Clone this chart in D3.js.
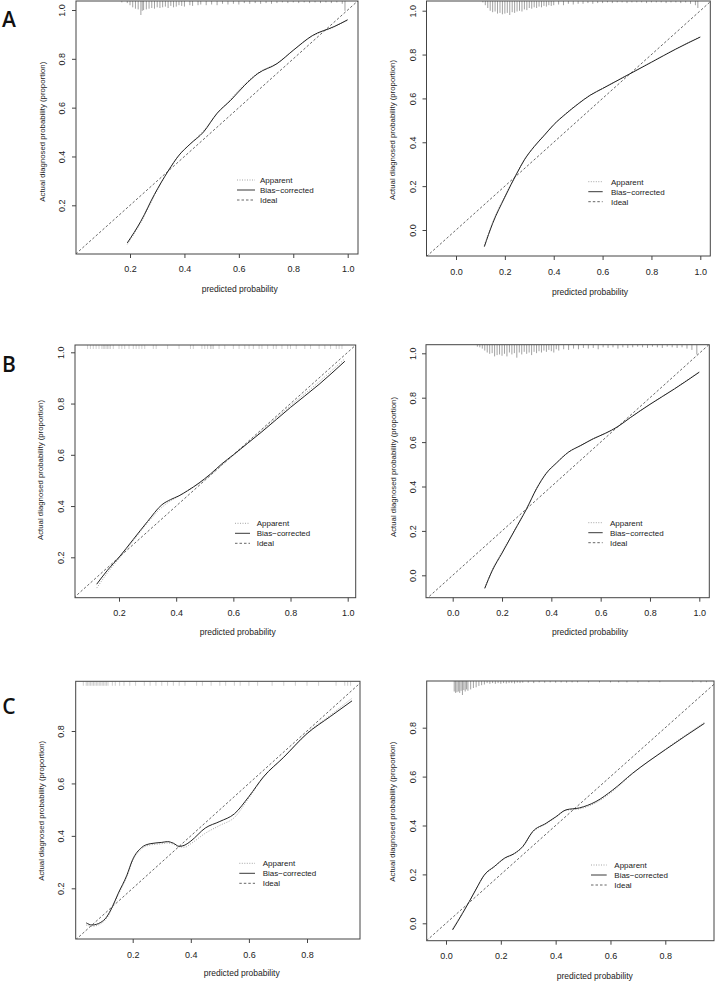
<!DOCTYPE html>
<html><head><meta charset="utf-8">
<script src="https://cdn.jsdelivr.net/npm/d3@7"></script>
<style>body{margin:0;background:#fff}svg{display:block}</style>
</head><body><svg id="chart" width="716" height="981"></svg>
<script>
// ---------------- DATA ----------------
const panelIds = ["A1","A2","B1","B2","C1","C2"];
const panelLetters = ["A","B","C"];
const legendLabels = ["Apparent","Bias\u2212corrected","Ideal"];
const xAxisTitle = "predicted probability";
const yAxisTitle = "Actual diagnosed probability (proportion)";

// tick values
const ticksA1x=[0.2,0.4,0.6,0.8,1.0], ticksA1y=[0.2,0.4,0.6,0.8,1.0];
const ticksA2x=[0.0,0.2,0.4,0.6,0.8,1.0], ticksA2y=[0.0,0.2,0.4,0.6,0.8,1.0];
const ticksB1x=[0.2,0.4,0.6,0.8,1.0], ticksB1y=[0.2,0.4,0.6,0.8,1.0];
const ticksB2x=[0.0,0.2,0.4,0.6,0.8,1.0], ticksB2y=[0.0,0.2,0.4,0.6,0.8,1.0];
const ticksC1x=[0.2,0.4,0.6,0.8], ticksC1y=[0.2,0.4,0.6,0.8];
const ticksC2x=[0.0,0.2,0.4,0.6,0.8], ticksC2y=[0.0,0.2,0.4,0.6,0.8];

// Panel A left
const predA1=[0.19,0.24,0.29,0.34,0.38,0.42,0.47,0.52,0.57,0.62,0.67,0.74,0.80,0.87,0.95,1.00];
const biasA1=[0.046,0.135,0.245,0.34,0.405,0.45,0.50,0.577,0.63,0.69,0.74,0.78,0.835,0.895,0.932,0.96];
const appA1 =[0.040,0.13,0.24,0.34,0.405,0.45,0.505,0.575,0.635,0.695,0.742,0.782,0.835,0.893,0.93,0.958];
// Panel A right
const predA2=[0.116,0.15,0.20,0.25,0.28,0.32,0.36,0.40,0.45,0.50,0.55,0.60,0.65,0.70,0.80,0.90,1.00];
const biasA2=[-0.076,0.03,0.15,0.26,0.32,0.38,0.43,0.48,0.53,0.575,0.615,0.645,0.675,0.705,0.765,0.825,0.88];
const appA2 =[-0.070,0.035,0.155,0.262,0.322,0.382,0.432,0.482,0.532,0.577,0.616,0.647,0.676,0.706,0.766,0.826,0.882];
// Panel B left
const predB1=[0.122,0.16,0.20,0.25,0.30,0.35,0.38,0.41,0.44,0.48,0.52,0.56,0.60,0.65,0.70,0.80,0.90,0.99];
const biasB1=[0.095,0.15,0.20,0.27,0.34,0.405,0.425,0.44,0.46,0.49,0.525,0.565,0.60,0.645,0.69,0.785,0.875,0.965];
const appB1 =[0.080,0.14,0.195,0.265,0.335,0.395,0.42,0.44,0.46,0.487,0.52,0.56,0.597,0.645,0.695,0.792,0.885,0.975];
// Panel B right
const predB2=[0.13,0.16,0.20,0.25,0.30,0.34,0.38,0.42,0.47,0.52,0.57,0.62,0.67,0.72,0.80,0.90,1.00];
const biasB2=[-0.059,0.02,0.10,0.20,0.30,0.39,0.46,0.505,0.555,0.585,0.615,0.64,0.67,0.71,0.77,0.84,0.915];
const appB2 =[-0.055,0.025,0.105,0.203,0.302,0.392,0.462,0.507,0.556,0.586,0.616,0.641,0.671,0.711,0.771,0.842,0.917];
// Panel C left
const predC1=[0.04,0.06,0.09,0.11,0.13,0.15,0.18,0.20,0.23,0.26,0.30,0.32,0.34,0.36,0.38,0.40,0.45,0.50,0.55,0.60,0.65,0.72,0.80,0.88,0.955];
const biasC1=[0.068,0.06,0.07,0.09,0.13,0.18,0.25,0.31,0.355,0.37,0.375,0.378,0.372,0.36,0.365,0.38,0.43,0.455,0.484,0.55,0.625,0.70,0.79,0.855,0.915];
const appC1 =[0.060,0.055,0.065,0.085,0.125,0.175,0.245,0.305,0.35,0.365,0.37,0.373,0.368,0.358,0.357,0.37,0.41,0.44,0.47,0.545,0.623,0.70,0.792,0.86,0.925];
// Panel C right
const predC2=[0.024,0.06,0.085,0.11,0.14,0.176,0.213,0.25,0.28,0.316,0.365,0.40,0.438,0.487,0.547,0.608,0.681,0.80,0.943];
const biasC2=[-0.027,0.04,0.089,0.14,0.198,0.232,0.266,0.286,0.314,0.375,0.409,0.435,0.464,0.472,0.498,0.545,0.614,0.71,0.818];
const appC2 =[-0.022,0.043,0.09,0.142,0.197,0.23,0.264,0.284,0.312,0.372,0.407,0.433,0.462,0.468,0.493,0.54,0.612,0.712,0.822];

// Spike histograms (rug) of predicted probabilities: position and relative frequency
const rugA1x=[0.17,0.19,0.20,0.21,0.22,0.23,0.24,0.245,0.25,0.26,0.27,0.28,0.29,0.30,0.31,0.32,0.33,0.34,0.35,0.36,0.37,0.38,0.39,0.40,0.42,0.43,0.45,0.46,0.48,0.50,0.52,0.54,0.56,0.58,0.60,0.62,0.64,0.66,0.68,0.70,0.72,0.74,0.76,0.78,0.80,0.82,0.84,0.86,0.88,0.90,0.92,0.94,0.96,0.98,0.99];
const rugA1h=[.1,.15,.3,.45,.55,.6,1.0,.7,.65,.6,.55,.5,.55,.45,.5,.45,.4,.5,.35,.45,.4,.3,.35,.4,.3,.35,.3,.25,.3,.25,.3,.2,.25,.2,.25,.15,.2,.15,.2,.15,.2,.15,.1,.15,.1,.15,.1,.15,.1,.15,.1,.15,.1,.2,.7];
const rugA2x=[0.11,0.12,0.13,0.14,0.15,0.16,0.17,0.18,0.19,0.20,0.21,0.22,0.23,0.24,0.25,0.26,0.27,0.28,0.29,0.30,0.31,0.32,0.33,0.34,0.35,0.36,0.37,0.38,0.39,0.40,0.42,0.44,0.46,0.48,0.50,0.52,0.54,0.56,0.58,0.60,0.62,0.64,0.66,0.68,0.70,0.72,0.74,0.76,0.78,0.80,0.82,0.84,0.86,0.88,0.90,0.92,0.94,0.96,0.98,0.99];
const rugA2h=[.1,.3,.5,.7,.8,.75,.9,.85,.95,.9,.85,1.0,.8,.85,.75,.7,.75,.6,.65,.5,.55,.45,.5,.4,.45,.35,.4,.3,.35,.3,.25,.3,.2,.25,.2,.2,.15,.2,.15,.15,.1,.15,.1,.1,.15,.1,.1,.1,.15,.1,.1,.1,.15,.1,.1,.15,.1,.2,.3,.5];
const rugB1x=[0.09,0.10,0.11,0.12,0.13,0.14,0.145,0.15,0.155,0.16,0.165,0.17,0.18,0.20,0.21,0.22,0.235,0.25,0.26,0.27,0.28,0.29,0.32,0.33,0.37,0.41,0.45,0.46,0.49,0.50,0.51,0.52,0.525,0.53,0.55,0.57,0.60,0.62,0.64,0.655,0.67,0.69,0.70,0.72,0.74,0.75,0.77,0.79,0.80,0.82,0.85,0.87,0.90,0.92,0.94,0.96,0.97,0.98];
const rugB2x=[0.10,0.11,0.12,0.13,0.14,0.15,0.16,0.17,0.18,0.19,0.20,0.21,0.22,0.23,0.24,0.25,0.26,0.27,0.28,0.29,0.30,0.31,0.32,0.33,0.34,0.35,0.36,0.37,0.38,0.39,0.40,0.41,0.42,0.43,0.45,0.47,0.49,0.51,0.53,0.55,0.57,0.59,0.61,0.63,0.65,0.67,0.69,0.71,0.73,0.75,0.77,0.79,0.81,0.83,0.85,0.87,0.89,0.91,0.93,0.95,0.97,0.99];
const rugB2h=[.15,.2,.3,.45,.6,.7,.65,.9,.8,.75,.85,.7,.9,.6,.75,.65,1.0,.6,.75,.55,.7,.6,.8,.55,.65,.5,.6,.45,.55,.4,.5,.6,.35,.45,.35,.4,.3,.35,.25,.3,.25,.35,.2,.25,.2,.3,.2,.25,.2,.15,.2,.25,.15,.2,.25,.15,.2,.25,.2,.3,.4,.75];
const rugC1x=[0.03,0.04,0.045,0.05,0.055,0.06,0.065,0.07,0.075,0.08,0.085,0.09,0.095,0.10,0.105,0.11,0.115,0.13,0.14,0.155,0.17,0.19,0.21,0.24,0.26,0.28,0.30,0.32,0.34,0.36,0.38,0.42,0.44,0.47,0.50,0.52,0.55,0.57,0.60,0.63,0.68,0.72,0.76,0.80,0.84,0.90,0.93,0.94,0.95];
const rugC2x=[0.03,0.035,0.04,0.045,0.05,0.055,0.06,0.065,0.07,0.075,0.08,0.09,0.10,0.11,0.12,0.13,0.14,0.15,0.16,0.17,0.18,0.19,0.20,0.21,0.22,0.23,0.24,0.25,0.26,0.27,0.28,0.30,0.32,0.34,0.36,0.38,0.40,0.42,0.44,0.46,0.48,0.52,0.56,0.60,0.63,0.66,0.70,0.74,0.78,0.90,0.93,0.95];
const rugC2h=[.75,.85,.8,.75,.85,.7,1.0,.65,.75,.6,.7,.6,.5,.45,.35,.3,.25,.15,.2,.15,.2,.15,.2,.15,.18,.15,.15,.18,.12,.15,.12,.12,.15,.1,.12,.1,.12,.1,.12,.1,.1,.1,.1,.1,.1,.1,.1,.08,.08,.08,.1,.08];

// ---------------- LAYOUT (positions / styles) ----------------
const layout = {
  A1:{box:[76,1,358,254], xCal:[0.2,130,1.0,347.7], yCal:[0.2,205.3,1.0,10], yT:[42.7,131.7], xT:[239.7,289], xTickY:269, yTickX:61.7, leg:[237,255,260,180], rugMax:14, rugColor:"#8a8a8a"},
  A2:{box:[426.5,1,710.3,256], xCal:[0,456,1,700.3], yCal:[0,230,1,10.7], yT:[392,130], xT:[590,291.7], xTickY:271.7, yTickX:413.3, leg:[588.3,602.7,611,181.7], rugMax:14, rugColor:"#8a8a8a"},
  B1:{box:[75,345,355.7,597.7], xCal:[0.2,119,1,347.7], yCal:[0.2,557.3,1,352.3], yT:[40.7,470], xT:[237.7,632.3], xTickY:613.3, yTickX:60.7, leg:[235,250,256.7,523.3], rugMax:4, rugColor:"#c4c4c4"},
  B2:{box:[426,344.7,709.3,597.7], xCal:[0,452.7,1,699.3], yCal:[0,575.3,1,353.3], yT:[393.3,467], xT:[590,632.3], xTickY:613.3, yTickX:412.7, leg:[588.3,602.7,610,522.7], rugMax:13, rugColor:"#8a8a8a"},
  C1:{box:[75.7,681.3,360,939], xCal:[0.2,132.7,0.8,307], yCal:[0.2,888.3,0.8,731], yT:[41.7,810.8], xT:[241.7,973.3], xTickY:955, yTickX:61, leg:[239.3,255,262.7,863.3], rugMax:4.5, rugColor:"#c4c4c4"},
  C2:{box:[426.7,681,714,940.7], xCal:[0,446,0.8,665.3], yCal:[0,923.3,0.8,727.7], yT:[392.7,811.7], xT:[594.8,976], xTickY:956, yTickX:412.7, leg:[591,606.7,614.3,865], rugMax:14, rugColor:"#8a8a8a"}
};
const letterPos = [[9,27],[9,372],[9,714]];

const panels = {
  A1:{pred:predA1,bias:biasA1,app:appA1,xt:ticksA1x,yt:ticksA1y,rx:rugA1x,rh:rugA1h},
  A2:{pred:predA2,bias:biasA2,app:appA2,xt:ticksA2x,yt:ticksA2y,rx:rugA2x,rh:rugA2h},
  B1:{pred:predB1,bias:biasB1,app:appB1,xt:ticksB1x,yt:ticksB1y,rx:rugB1x,rh:null},
  B2:{pred:predB2,bias:biasB2,app:appB2,xt:ticksB2x,yt:ticksB2y,rx:rugB2x,rh:rugB2h},
  C1:{pred:predC1,bias:biasC1,app:appC1,xt:ticksC1x,yt:ticksC1y,rx:rugC1x,rh:null},
  C2:{pred:predC2,bias:biasC2,app:appC2,xt:ticksC2x,yt:ticksC2y,rx:rugC2x,rh:rugC2h}
};

const FONT = "'Liberation Sans', Arial, Helvetica, sans-serif";
const svg = d3.select("#chart");
svg.append("rect").attr("width",716).attr("height",981).attr("fill","#fff");

panelIds.forEach((id, idx) => {
  const P = panels[id], L = layout[id];
  const [l,t,r,b] = L.box;
  const x = d3.scaleLinear().domain([L.xCal[0],L.xCal[2]]).range([L.xCal[1],L.xCal[3]]);
  const y = d3.scaleLinear().domain([L.yCal[0],L.yCal[2]]).range([L.yCal[1],L.yCal[3]]);
  const g = svg.append("g").attr("class","panel-"+id);

  g.append("clipPath").attr("id","clip"+id).append("rect")
    .attr("x",l).attr("y",t).attr("width",r-l).attr("height",b-t);
  const inner = g.append("g").attr("clip-path",`url(#clip${id})`);

  // rug (spike histogram) at top
  const rug = P.rx.map((v,i)=>({v, h: P.rh ? P.rh[i] : 1}));
  inner.selectAll("line.rug").data(rug).join("line").attr("class","rug")
    .attr("x1",d=>x(d.v)).attr("x2",d=>x(d.v))
    .attr("y1",t).attr("y2",d=>t + Math.max(1.2, d.h*L.rugMax))
    .attr("stroke",L.rugColor).attr("stroke-width",0.8);

  // ideal diagonal
  const lo = Math.min(x.invert(l), y.invert(b)), hi = Math.max(x.invert(r), y.invert(t));
  inner.append("line").attr("x1",x(lo)).attr("y1",y(lo)).attr("x2",x(hi)).attr("y2",y(hi))
    .attr("stroke","#555").attr("stroke-width",0.9).attr("stroke-dasharray","2.5,2");

  const line = d3.line().x(d=>x(d[0])).y(d=>y(d[1])).curve(d3.curveMonotoneX);
  inner.append("path").datum(d3.zip(P.pred,P.app)).attr("d",line)
    .attr("fill","none").attr("stroke","#9a9a9a").attr("stroke-width",0.9).attr("stroke-dasharray","1,1.5");
  inner.append("path").datum(d3.zip(P.pred,P.bias)).attr("d",line)
    .attr("fill","none").attr("stroke","#222").attr("stroke-width",1);

  // box
  g.append("rect").attr("x",l).attr("y",t).attr("width",r-l).attr("height",b-t)
    .attr("fill","none").attr("stroke","#444").attr("stroke-width",1);

  // x axis
  const xa = g.append("g").attr("transform",`translate(0,${b})`)
    .call(d3.axisBottom(x).tickValues(P.xt).tickSize(4).tickFormat(d3.format(".1f")));
  xa.select(".domain").remove();
  xa.attr("font-family",FONT).attr("font-size",9).attr("color","#444");
  xa.selectAll("text").attr("y",L.xTickY-b).attr("dy","0.35em").attr("fill","#222");

  // y axis
  const ya = g.append("g").attr("transform",`translate(${l},0)`)
    .call(d3.axisLeft(y).tickValues(P.yt).tickSize(4).tickFormat(d3.format(".1f")));
  ya.select(".domain").remove();
  ya.attr("font-family",FONT).attr("font-size",9).attr("color","#444");
  ya.selectAll("text").attr("x",0).attr("dy","0.35em").attr("text-anchor","middle")
    .attr("transform",`translate(${L.yTickX-l},0) rotate(-90)`).attr("fill","#222");

  // axis titles
  g.append("text").attr("x",L.xT[0]).attr("y",L.xT[1]).attr("dy","0.35em")
    .attr("text-anchor","middle").attr("font-family",FONT).attr("font-size",8.5).attr("fill","#222")
    .text(xAxisTitle);
  g.append("text").attr("transform",`translate(${L.yT[0]},${L.yT[1]}) rotate(-90)`).attr("dy","0.35em")
    .attr("text-anchor","middle").attr("font-family",FONT).attr("font-size",7.8).attr("fill","#222")
    .text(yAxisTitle);

  // legend
  const [lx1,lx2,tx,ly0] = L.leg;
  const styles = [{c:"#9a9a9a",d:"1,1.5"},{c:"#222",d:null},{c:"#555",d:"2.5,2"}];
  legendLabels.forEach((lab,i)=>{
    const yy = ly0 + i*10;
    g.append("line").attr("x1",lx1).attr("x2",lx2).attr("y1",yy).attr("y2",yy)
      .attr("stroke",styles[i].c).attr("stroke-width",0.9).attr("stroke-dasharray",styles[i].d);
    g.append("text").attr("x",tx).attr("y",yy).attr("dy","0.35em")
      .attr("font-family",FONT).attr("font-size",8).attr("fill","#222").text(lab);
  });
});

// panel letters
panelLetters.forEach((s,i)=>{
  svg.append("text").attr("x",letterPos[i][0]).attr("y",letterPos[i][1]).attr("text-anchor","middle")
    .attr("font-family","'Open Sans', 'Noto Sans', sans-serif").attr("font-weight",600)
    .attr("font-size",21).attr("fill","#111").text(s);
});
</script></body></html>
